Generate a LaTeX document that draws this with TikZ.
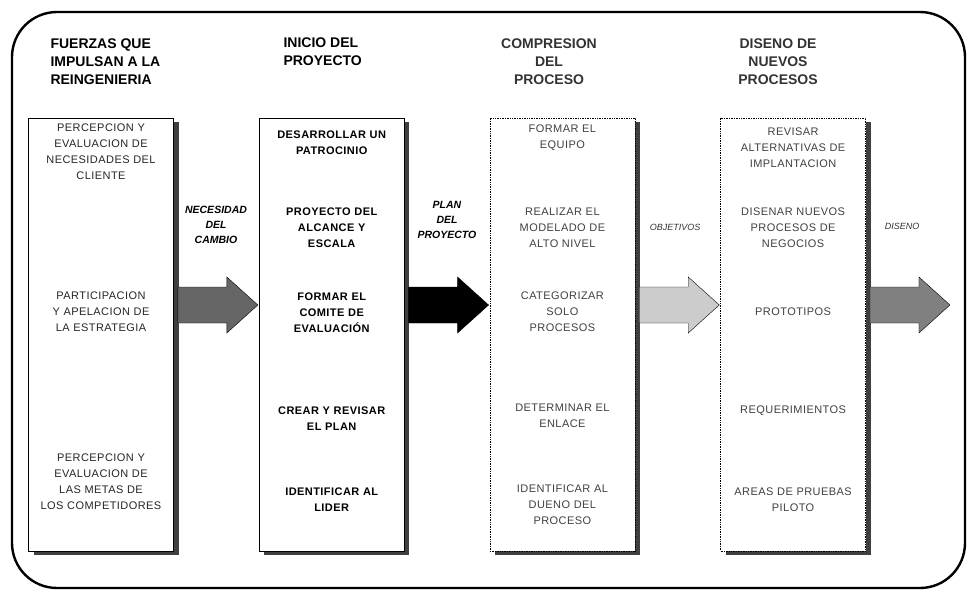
\documentclass[tikz,border=0pt]{standalone}
\usepackage{fontspec}
\setmainfont{Liberation Sans}
\usetikzlibrary{positioning,shadows}

\tikzset{
  caja/.style={draw, fill=white, line width=0.7pt, minimum width=145pt, minimum height=433pt, inner sep=0pt,
    drop shadow={shadow xshift=5pt, shadow yshift=-4pt, fill=black!75, opacity=1}},
  titulo/.style={font=\fontsize{14}{18}\selectfont\bfseries, align=left, anchor=west},
  paso/.style={font=\fontsize{11}{16}\selectfont\addfontfeature{LetterSpace=4}, align=center, text width=140pt, inner sep=0pt},
  etiqueta/.style={font=\fontsize{10.5}{15}\selectfont\bfseries\itshape, align=center, inner sep=0pt},
  flecha/.pic={
    \filldraw[pic actions] (4,-18) -- (53,-18) -- (53,-28) -- (84,0) -- (53,28) -- (53,18) -- (4,18) -- cycle;
  }
}

\begin{document}
\begin{tikzpicture}[x=1pt, y=-1pt]
  \useasboundingbox (0,0) rectangle (968,594);

  % Marco exterior
  \draw[line width=2.4pt, rounded corners=45pt] (12,12) rectangle (965,588);

  % Titulos
  \node[titulo] (t1) at (47,62) {FUERZAS QUE\\IMPULSAN A LA\\REINGENIERIA};
  \node[titulo] (t2) at (280,52) {INICIO DEL\\PROYECTO};
  \node[titulo, align=center, anchor=center, text=black!80] (t3) at (549,62) {COMPRESION\\DEL\\PROCESO};
  \node[titulo, align=center, anchor=center, text=black!80] (t4) at (778,62) {DISENO DE\\NUEVOS\\PROCESOS};

  % Cajas
  \node[caja] (c1) at (101,334.5) {};
  \node[caja, right=85pt of c1] (c2) {};
  \node[caja, densely dotted, right=85pt of c2] (c3) {};
  \node[caja, densely dotted, right=85pt of c3] (c4) {};

  % Flechas
  \coordinate (eje) at (0,305);
  \pic[fill=black!60, draw=black] at (c1.east |- eje) {flecha};
  \pic[fill=black, draw=black] at (c2.east |- eje) {flecha};
  \pic[fill=black!20, draw=black] at (c3.east |- eje) {flecha};
  \pic[fill=black!50, draw=black] at (c4.east |- eje) {flecha};

  \node[etiqueta] (e1) at (216,225) {NECESIDAD\\DEL\\CAMBIO};
  \node[etiqueta] (e2) at (447,220) {PLAN\\DEL\\PROYECTO};
  \node[etiqueta, font=\fontsize{9}{12}\selectfont\itshape, text=black!80] (e3) at (675,227) {OBJETIVOS};
  \node[etiqueta, font=\fontsize{9}{12}\selectfont\itshape, text=black!80] (e4) at (902,226) {DISENO};

  % Columna 1
  \begin{scope}[every node/.style={paso, text=black!85}]
    \node (c1a) at (c1 |- 0,152) {PERCEPCION Y\\EVALUACION DE\\NECESIDADES DEL\\CLIENTE};
    \node (c1b) at (c1 |- 0,312) {PARTICIPACION\\Y APELACION DE\\LA ESTRATEGIA};
    \node (c1c) at (c1 |- 0,482) {PERCEPCION Y\\EVALUACION DE\\LAS METAS DE\\LOS COMPETIDORES};
  \end{scope}

  % Columna 2
  \begin{scope}[every node/.style={paso, font=\fontsize{11}{16}\selectfont\bfseries\addfontfeature{LetterSpace=4}}]
    \node (c2a) at (c2 |- 0,143) {DESARROLLAR UN\\PATROCINIO};
    \node (c2b) at (c2 |- 0,228) {PROYECTO DEL\\ALCANCE Y\\ESCALA};
    \node (c2c) at (c2 |- 0,313) {FORMAR EL\\COMITE DE\\EVALUACIÓN};
    \node (c2d) at (c2 |- 0,419) {CREAR Y REVISAR\\EL PLAN};
    \node (c2e) at (c2 |- 0,500) {IDENTIFICAR AL\\LIDER};
  \end{scope}

  % Columna 3
  \begin{scope}[every node/.style={paso, text=black!75}]
    \node (c3a) at (c3 |- 0,138) {FORMAR EL\\EQUIPO};
    \node (c3b) at (c3 |- 0,228) {REALIZAR EL\\MODELADO DE\\ALTO NIVEL};
    \node (c3c) at (c3 |- 0,312) {CATEGORIZAR\\SOLO\\PROCESOS};
    \node (c3d) at (c3 |- 0,416) {DETERMINAR EL\\ENLACE};
    \node (c3e) at (c3 |- 0,505) {IDENTIFICAR AL\\DUENO DEL\\PROCESO};
  \end{scope}

  % Columna 4
  \begin{scope}[every node/.style={paso, text=black!75}]
    \node (c4a) at (c4 |- 0,148) {REVISAR\\ALTERNATIVAS DE\\IMPLANTACION};
    \node (c4b) at (c4 |- 0,228) {DISENAR NUEVOS\\PROCESOS DE\\NEGOCIOS};
    \node (c4c) at (c4 |- 0,312) {PROTOTIPOS};
    \node (c4d) at (c4 |- 0,411) {REQUERIMIENTOS};
    \node (c4e) at (c4 |- 0,500) {AREAS DE PRUEBAS\\PILOTO};
  \end{scope}
\end{tikzpicture}
\end{document}
